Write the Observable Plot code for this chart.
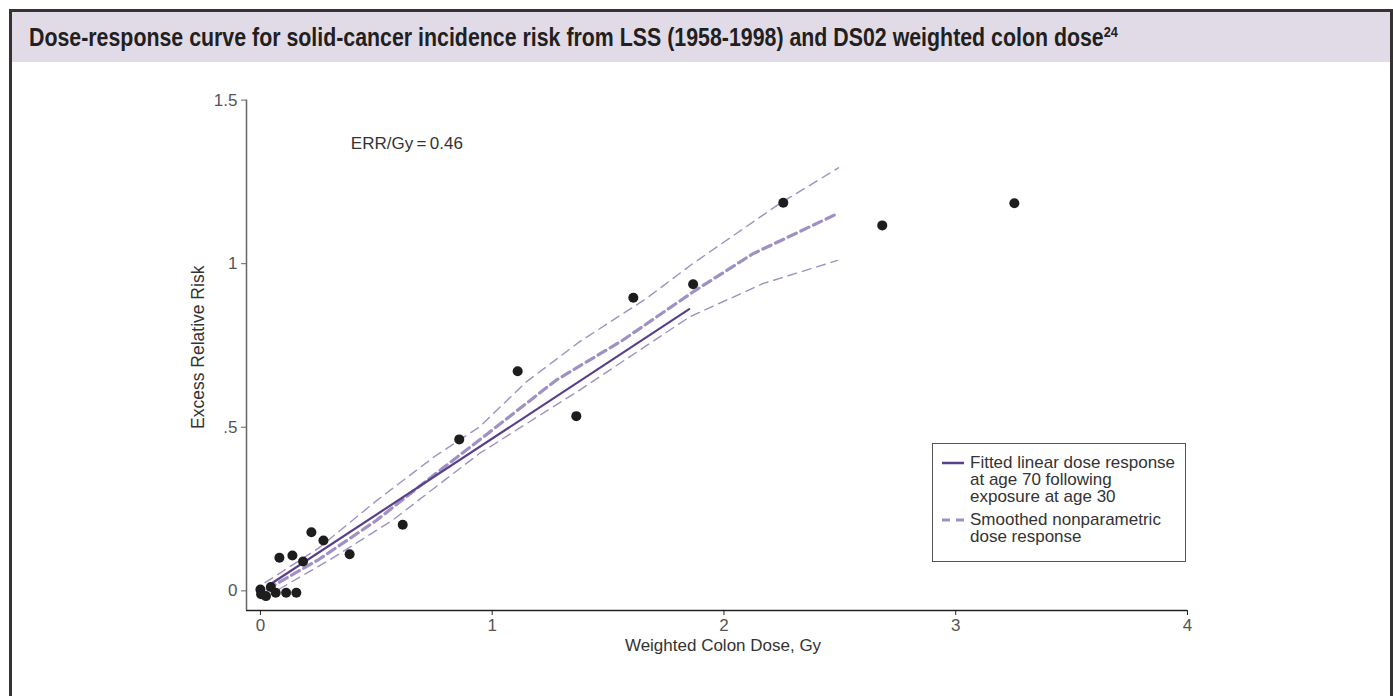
<!DOCTYPE html>
<html>
<head>
<meta charset="utf-8">
<script src="https://cdn.jsdelivr.net/npm/d3@7"></script>
<script src="https://cdn.jsdelivr.net/npm/@observablehq/plot@0.6"></script>
<style>
  html, body { margin: 0; padding: 0; background: white; width: 1393px; height: 696px; overflow: hidden; }
  #frame { position: absolute; left: 9px; top: 9px; width: 1378px; height: 700px; border: 3px solid #333; background: white; box-sizing: content-box; }
  #band { position: absolute; left: 12px; top: 12px; width: 1378px; height: 50px; background: #e1dbe7; }
  #title { position: absolute; left: 29px; top: 12px; height: 50px; line-height: 50px; font-family: "Liberation Sans Narrow", "Liberation Sans", sans-serif; font-weight: bold; font-size: 25px; color: #231f20; white-space: nowrap; transform-origin: left center; }
  #title sup { font-size: 15px; vertical-align: 0; position: relative; top: -9px; }
  #chart { position: absolute; left: 0; top: 62px; }
  #legend { position: absolute; left: 932px; top: 443px; width: 252px; height: 117px; border: 1px solid #555; background: white; font-family: "Liberation Sans", sans-serif; font-size: 17px; color: #333; }
  #legend .t { position: absolute; left: 37px; white-space: nowrap; line-height: 17px; }
  #legend svg { position: absolute; left: 0; top: 0; }
</style>
</head>
<body>
<div id="frame"></div>
<div id="band"></div>
<div id="title">Dose-response curve for solid-cancer incidence risk from LSS (1958-1998) and DS02 weighted colon dose<sup>24</sup></div>
<div id="chart"></div>
<div id="legend"></div>
<script>
// ---- data ----
const doseX = [0.0, 0.003, 0.024, 0.045, 0.066, 0.111, 0.155, 0.082, 0.138, 0.184, 0.22, 0.272, 0.385, 0.614, 0.858, 1.11, 1.363, 1.609, 1.867, 2.256, 2.683, 3.253];
const errY  = [0.004, -0.01, -0.016, 0.012, -0.006, -0.006, -0.006, 0.101, 0.108, 0.090, 0.179, 0.154, 0.112, 0.202, 0.463, 0.671, 0.534, 0.896, 0.937, 1.186, 1.117, 1.185];

const linearX = [0.03, 1.85];
const linearY = [0.014, 0.861];

const smoothX = [0.03, 0.25, 0.5, 0.75, 0.945, 1.276, 1.563, 1.865, 2.124, 2.49];
const smoothY = [0.005, 0.095, 0.215, 0.355, 0.461, 0.644, 0.766, 0.913, 1.03, 1.153];

const upperX = [0.02, 0.25, 0.5, 0.75, 0.945, 1.146, 1.376, 1.664, 1.865, 2.239, 2.494];
const upperY = [0.025, 0.13, 0.275, 0.41, 0.501, 0.638, 0.761, 0.893, 1.0, 1.183, 1.293];

const lowerX = [0.08, 0.3, 0.57, 0.945, 1.376, 1.851, 2.167, 2.49];
const lowerY = [0.005, 0.095, 0.216, 0.42, 0.613, 0.837, 0.939, 1.01];

const xTicks = [0, 1, 2, 3, 4];
const xTickLabels = ["0", "1", "2", "3", "4"];
const yTicks = [0, 0.5, 1, 1.5];
const yTickLabels = ["0", ".5", "1", "1.5"];

const xDomain = [-0.06, 4];
const yDomain = [-0.06, 1.5];

const annotation = [{x: 0.39, y: 1.367, text: "ERR/Gy\u2009=\u20090.46"}];

const legendItems = [
  {lines: ["Fitted linear dose response", "at age 70 following", "exposure at age 30"], kind: "solid"},
  {lines: ["Smoothed nonparametric", "dose response"], kind: "dashed"}
];

// ---- build tables ----
const points = doseX.map((x, i) => ({x, y: errY[i]}));
const zip = (xs, ys) => xs.map((x, i) => ({x, y: ys[i]}));
const linear = zip(linearX, linearY);
const smooth = zip(smoothX, smoothY);
const upper = zip(upperX, upperY);
const lower = zip(lowerX, lowerY);

const solidColor = "#5a3f8c";
const dashColor = "#9f91c4";

const chart = Plot.plot({
  width: 1393,
  height: 634,
  marginLeft: 246,
  marginRight: 206,
  marginTop: 37.6,
  marginBottom: 86,
  style: {background: "transparent", fontFamily: "Liberation Sans, sans-serif", fontSize: "17px", color: "#333", overflow: "visible"},
  x: {domain: xDomain},
  y: {domain: yDomain},
  marks: [
    Plot.ruleY([{y: yDomain[0], x1: xDomain[0], x2: xDomain[1]}], {y: "y", x1: "x1", x2: "x2", stroke: "#222", strokeWidth: 1.5}),
    Plot.ruleX([{x: xDomain[0], y1: yDomain[0], y2: yDomain[1]}], {x: "x", y1: "y1", y2: "y2", stroke: "#666", strokeWidth: 1.5}),
    Plot.axisX({ticks: xTicks, tickFormat: (d, i) => xTickLabels[i], tickSize: 5, tickPadding: 3, label: null, fontSize: 17, fill: "#555", stroke: "#222"}),
    Plot.axisY({ticks: yTicks, tickFormat: (d, i) => yTickLabels[i], tickSize: 5, tickPadding: 4, label: null, fontSize: 17, fill: "#555", stroke: "#666"}),
    Plot.text(["Weighted Colon Dose, Gy"], {frameAnchor: "bottom", dy: 40, dx: 6, fontSize: 17, fill: "#333", text: d => d}),
    Plot.text(["Excess Relative Risk"], {frameAnchor: "left", textAnchor: "middle", dx: -48, dy: -8, rotate: -90, fontSize: 17.5, fill: "#333", text: d => d}),
    Plot.line(upper, {x: "x", y: "y", stroke: dashColor, strokeWidth: 1.4, strokeDasharray: "9,6"}),
    Plot.line(lower, {x: "x", y: "y", stroke: dashColor, strokeWidth: 1.4, strokeDasharray: "9,6"}),
    Plot.line(smooth, {x: "x", y: "y", stroke: dashColor, strokeWidth: 3.2, strokeDasharray: "9,5"}),
    Plot.line(linear, {x: "x", y: "y", stroke: solidColor, strokeWidth: 2.2}),
    Plot.dot(points, {x: "x", y: "y", r: 5, fill: "#1d1d1d", stroke: "none"}),
    Plot.text(annotation, {x: "x", y: "y", text: "text", textAnchor: "start", fontSize: 17, fill: "#333"})
  ]
});
document.getElementById("chart").appendChild(chart);

// ---- legend ----
const legend = document.getElementById("legend");
const rowTops = [10, 67];
const ns = "http://www.w3.org/2000/svg";
const lsvg = document.createElementNS(ns, "svg");
lsvg.setAttribute("width", 252); lsvg.setAttribute("height", 117);
legendItems.forEach((item, k) => {
  const top = rowTops[k];
  const ln = document.createElementNS(ns, "line");
  ln.setAttribute("x1", 9); ln.setAttribute("x2", 31);
  ln.setAttribute("y1", top + 9); ln.setAttribute("y2", top + 9);
  if (item.kind === "solid") {
    ln.setAttribute("stroke", solidColor); ln.setAttribute("stroke-width", 2.5);
  } else {
    ln.setAttribute("stroke", dashColor); ln.setAttribute("stroke-width", 3);
    ln.setAttribute("stroke-dasharray", "8,6");
  }
  lsvg.appendChild(ln);
  item.lines.forEach((s, j) => {
    const d = document.createElement("div");
    d.className = "t";
    d.style.top = (top + j * 17) + "px";
    d.textContent = s;
    legend.appendChild(d);
  });
});
legend.appendChild(lsvg);

// fit title width to the reference span
const title = document.getElementById("title");
const w = title.getBoundingClientRect().width;
const target = 1089;
title.style.transform = `scaleX(${target / w})`;
</script>
</body>
</html>
